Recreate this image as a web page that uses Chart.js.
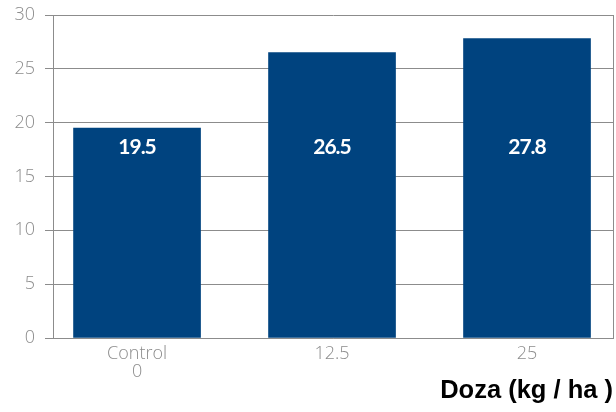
<!DOCTYPE html>
<html>
<head>
<meta charset="utf-8">
<script src="https://cdn.jsdelivr.net/npm/chart.js@4.4.0/dist/chart.umd.min.js"></script>
<style>
  html, body { margin: 0; padding: 0; background: #fff; }
  #wrap { width: 616px; height: 412px; }
</style>
</head>
<body>
<div id="wrap"><canvas id="doza"></canvas></div>
<script>
// doses on the x axis, yield per dose
var doseLabels = [['Control', '0'], '12.5', '25'];
var yieldValues = [19.5, 26.5, 27.8];
var yTicks = [0, 5, 10, 15, 20, 25, 30];

var barBlue = '#00437f';
var tickGrey = '#8c8c8c';
var lineGrey = '#8c8c8c';

// white value text inside each bar, all on one line
var valueText = {
  id: 'valueText',
  afterDatasetsDraw: function(chart) {
    var ctx = chart.ctx;
    var meta = chart.getDatasetMeta(0);
    var y = chart.scales.y.getPixelForValue(17.7);
    ctx.save();
    ctx.fillStyle = '#fff';
    ctx.font = 'bold 21px Lato';
    ctx.letterSpacing = '-1px';
    ctx.textAlign = 'center';
    ctx.textBaseline = 'middle';
    meta.data.forEach(function(bar, i) {
      ctx.fillText(yieldValues[i].toFixed(1), bar.x, y);
    });
    ctx.restore();
  }
};

// box line on the right side of the plot
var plotBox = {
  id: 'plotBox',
  afterDraw: function(chart) {
    var a = chart.chartArea;
    var ctx = chart.ctx;
    ctx.save();
    ctx.strokeStyle = lineGrey;
    ctx.lineWidth = 1;
    ctx.beginPath();
    ctx.moveTo(a.right + 0.5, a.top);
    ctx.lineTo(a.right + 0.5, a.bottom);
    ctx.stroke();
    ctx.restore();
  }
};

var config = {
  type: 'bar',
  data: {
    datasets: [{
      data: yieldValues.map(function(v, i) { return { x: i, y: v }; }),
      backgroundColor: barBlue,
      borderWidth: 0,
      barThickness: 127
    }]
  },
  options: {
    responsive: true,
    maintainAspectRatio: false,
    animation: false,
    layout: { padding: { top: 15, right: 3, bottom: 6, left: 0 } },
    plugins: {
      legend: { display: false },
      tooltip: { enabled: false }
    },
    scales: {
      x: {
        type: 'linear',
        offset: false,
        min: -0.431,
        max: 2.441,
        afterBuildTicks: function(scale) {
          scale.ticks = doseLabels.map(function(l, i) { return { value: i }; });
        },
        grid: { display: false, drawTicks: false, tickLength: 0 },
        border: { color: lineGrey, width: 1 },
        ticks: {
          color: tickGrey,
          font: { family: 'Open Sans', size: 18, weight: 300, lineHeight: 1.0 },
          padding: 7,
          maxRotation: 0,
          callback: function(v) { return doseLabels[v]; }
        },
        title: {
          display: true,
          text: 'Doza (kg / ha )',
          align: 'end',
          color: '#000',
          font: { family: 'Liberation Sans', size: 25.5, weight: 'bold' },
          padding: { top: 0, bottom: 0 }
        },
        afterFit: function(scale) { scale.height = 68; }
      },
      y: {
        min: 0,
        max: 30,
        afterBuildTicks: function(scale) {
          scale.ticks = yTicks.map(function(v) { return { value: v }; });
        },
        grid: { color: lineGrey, lineWidth: 1, tickLength: 8 },
        border: { color: lineGrey, width: 1 },
        ticks: {
          color: tickGrey,
          font: { family: 'Open Sans', size: 18, weight: 300 },
          padding: 10
        },
        afterFit: function(scale) {
          scale.width = 53;
          scale.paddingTop = 0;
          scale.paddingBottom = 0;
        }
      }
    }
  },
  plugins: [valueText, plotBox]
};

var ctx = document.getElementById('doza').getContext('2d');
var myChart = new Chart(ctx, config);
</script>
</body>
</html>
